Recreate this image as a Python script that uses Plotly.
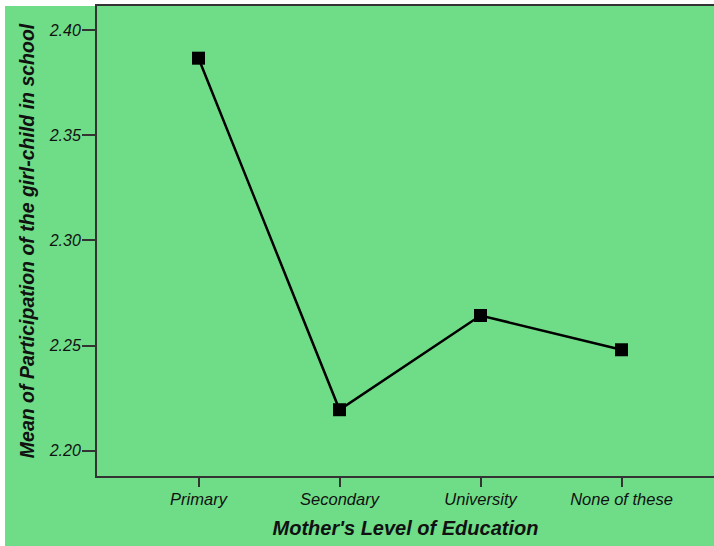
import plotly.graph_objects as go

categories = ["Primary", "Secondary", "University", "None of these"]
means = [2.3866, 2.2195, 2.2643, 2.248]
y_ticks = [2.20, 2.25, 2.30, 2.35, 2.40]

GREEN = "#6FDD87"
AXIS = "#333333"
FONT = "Liberation Sans, Arial, sans-serif"

fig = go.Figure()
fig.add_trace(go.Scatter(
    x=list(range(len(categories))), y=means, mode="lines+markers",
    line=dict(color="black", width=2.5),
    marker=dict(symbol="square", size=13, color="black"),
    showlegend=False, hoverinfo="skip"))

fig.update_layout(
    width=714, height=546,
    margin=dict(l=97, r=0, t=6, b=70),
    paper_bgcolor=GREEN, plot_bgcolor=GREEN,
    font=dict(family=FONT, color="#111111"),
    shapes=[
        dict(type="rect", xref="paper", yref="paper", x0=-97/617, x1=(5-97)/617,
             y0=-70/470, y1=1 + 6/470, fillcolor="white", line_width=0, layer="below"),
        dict(type="rect", xref="paper", yref="paper", x0=-97/617, x1=1,
             y0=1, y1=1 + 6/470, fillcolor="white", line_width=0, layer="below"),
    ],
)
fig.update_xaxes(
    range=[-0.72, 3.656],
    tickmode="array", tickvals=list(range(len(categories))), ticktext=categories,
    ticks="outside", ticklen=9, tickwidth=2, tickcolor=AXIS,
    showline=True, linewidth=2, linecolor=AXIS, mirror=True,
    showgrid=False, zeroline=False, ticklabelstandoff=-2,
    tickfont=dict(family=FONT, size=16.5, style="italic", color="#111111"),
    title=dict(text="Mother's Level of Education", standoff=14,
               font=dict(family=FONT, size=20, style="italic", weight="bold", color="#111111")),
)
fig.update_yaxes(
    range=[2.188, 2.4114],
    tickmode="array", tickvals=y_ticks, ticktext=[f"{v:.2f}" for v in y_ticks],
    ticks="outside", ticklen=13, tickwidth=2, tickcolor=AXIS,
    showline=True, linewidth=2, linecolor=AXIS,
    showgrid=False, zeroline=False, ticklabelstandoff=-2,
    tickfont=dict(family=FONT, size=16, style="italic", color="#111111"),
    title=dict(text="Mean of Participation of the girl-child in school", standoff=9,
               font=dict(family=FONT, size=19.5, style="italic", weight="bold", color="#111111")),
)

fig.write_html("out.html", config={"displayModeBar": False},
               post_script="document.body.style.margin='0';document.body.style.padding='0';")
